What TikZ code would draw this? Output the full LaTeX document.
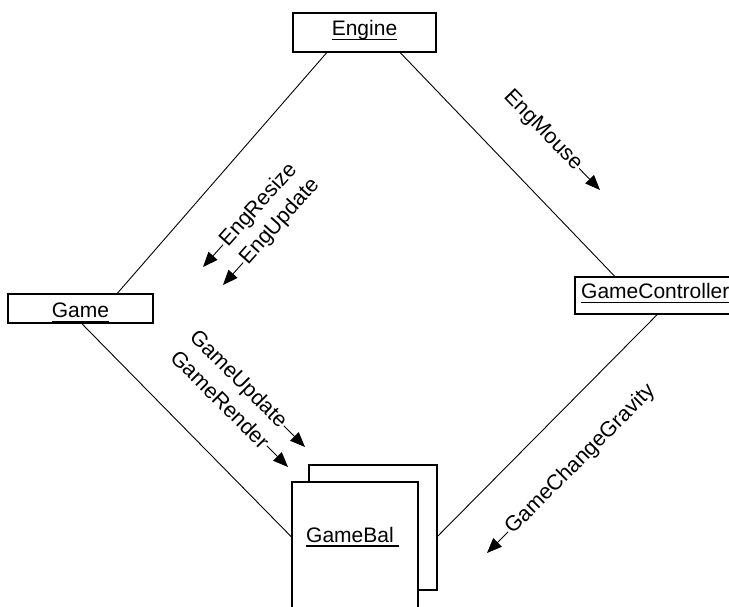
\documentclass[tikz,border=0pt]{standalone}
\usepackage{fontspec}
\setmainfont{Liberation Sans}
\usetikzlibrary{arrows.meta,calc}
% underlined object name with a fixed rule offset below the baseline
\newcommand\ulname[2][0pt]{\setbox0\hbox{#2\hspace{#1}}\rlap{\rule[-4.5pt]{\wd0}{1.3pt}}\box0}
\begin{document}
\begin{tikzpicture}[x=1pt,y=1pt,
  box/.style={draw, line width=1.6pt, fill=white, inner sep=0pt},
  objname/.style={inner sep=0pt, font=\fontsize{21}{25}\selectfont},
  msg/.style={inner sep=1pt, font=\fontsize{21.5}{26}\selectfont},
  link/.style={line width=0.9pt},
  msgarrow/.style={line width=0.9pt, -{Triangle[length=15pt,width=12pt]}}]
\path[use as bounding box] (0,0) rectangle (729,606);
\clip (0,0) rectangle (729,606);

% objects
\node[box, minimum width=143pt, minimum height=39pt] (eng) at (364.5,573.5) {};
\node[box, minimum width=145pt, minimum height=29pt] (game) at (80.5,297.5) {};
\node[box, minimum width=160pt, minimum height=37pt] (ctrl) at (655,310.5) {};
\node[box, minimum width=128pt, minimum height=125pt] (ballb) at (373,78.5) {};
\node[box, minimum width=126pt, minimum height=168pt] (ball) at (355,40) {};

\node[objname, anchor=base] (engt) at (364.5,570) {\ulname{Engine}};
\node[objname, anchor=base] (gamet) at (80.5,288) {\ulname{Game}};
\node[objname, anchor=base west] (ctrlt) at (581,307) {\ulname{GameController}};
\node[objname, anchor=base west] (ballt) at (306,64) {\ulname[5pt]{GameBal}};

% links
\draw[link] ($(eng.south west)!0.238!(eng.south east)$) -- ($(game.north west)!0.752!(game.north east)$);
\draw[link] ($(eng.south west)!0.748!(eng.south east)$) -- ($(ctrl.north west)!0.25!(ctrl.north east)$);
\draw[link] ($(game.south west)!0.51!(game.south east)$) -- ($(ball.north west)!0.327!(ball.south west)$);
\draw[link] ($(ctrl.south west)!0.5125!(ctrl.south east)$) -- ($(ballb.north east)!0.568!(ballb.south east)$);

% messages: Engine -> Game
\coordinate (t1) at (203,339);
\node[msg, rotate=48, anchor=west] (m1) at ($(t1)+(48:30)$) {EngResize};
\draw[msgarrow] (m1.west) -- (t1);
\coordinate (t2) at (223,321);
\node[msg, rotate=48, anchor=west] (m2) at ($(t2)+(48:30)$) {EngUpdate};
\draw[msgarrow] (m2.west) -- (t2);

% Engine -> GameController
\coordinate (t3) at (600,416);
\node[msg, rotate=-46, anchor=east] (m3) at ($(t3)+(134:30)$) {EngMouse};
\draw[msgarrow] (m3.east) -- (t3);

% Game -> GameBall
\coordinate (t4) at (305,159);
\node[msg, rotate=-45, anchor=east] (m4) at ($(t4)+(135:30)$) {GameUpdate};
\draw[msgarrow] (m4.east) -- (t4);
\coordinate (t5) at (288,139);
\node[msg, rotate=-45, anchor=east] (m5) at ($(t5)+(135:30)$) {GameRender};
\draw[msgarrow] (m5.east) -- (t5);

% GameController -> GameBall
\coordinate (t6) at (487,53);
\node[msg, rotate=45, anchor=west] (m6) at ($(t6)+(45:30)$) {GameChangeGravity};
\draw[msgarrow] (m6.west) -- (t6);
\end{tikzpicture}
\end{document}
